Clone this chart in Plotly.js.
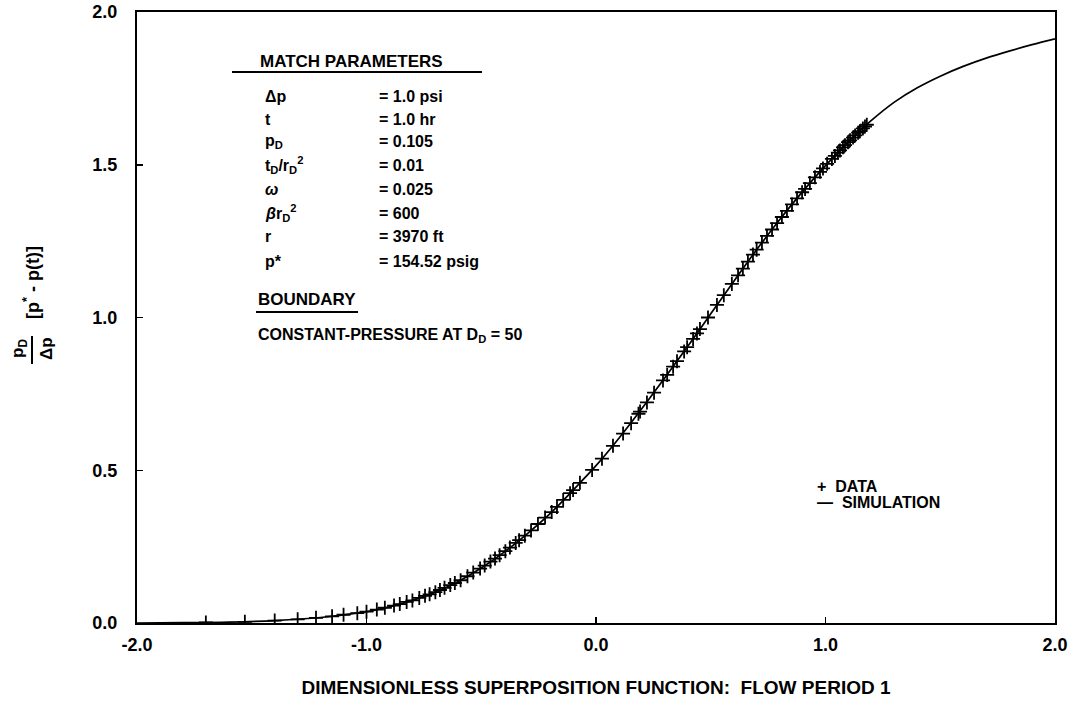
<!DOCTYPE html>
<html>
<head>
<meta charset="utf-8">
<script src="https://cdn.plot.ly/plotly-3.0.1.min.js"></script>
<style>
  html, body { margin: 0; padding: 0; background: #fff; }
  #chart { width: 1077px; height: 711px; }
</style>
</head>
<body>
<div id="chart"></div>
<script>
// ---------- DATA ----------
const simX = [-2.0,-1.8,-1.6,-1.4,-1.2,-1.0,-0.9,-0.8,-0.7,-0.6,-0.5,-0.4,-0.3,-0.2,-0.1,0.0,0.1,0.2,0.3,0.4,0.5,0.6,0.7,0.8,0.9,1.0,1.1,1.2,1.3,1.4,1.5,1.6,1.7,1.8,1.9,2.0];
const simY = [0.000,0.001,0.003,0.008,0.018,0.037,0.053,0.074,0.101,0.136,0.180,0.232,0.292,0.358,0.435,0.515,0.605,0.702,0.803,0.906,1.012,1.118,1.222,1.320,1.412,1.497,1.575,1.645,1.705,1.752,1.790,1.822,1.849,1.872,1.893,1.912];

const dataX = [-1.70,-1.53,-1.40,-1.30,-1.22,-1.15,-1.10,-1.04,-1.00,-0.955,-0.92,-0.88,-0.855,-0.825,-0.80,-0.77,-0.745,-0.725,-0.70,-0.68,-0.66,-0.635,-0.615,-0.59,-0.56,-0.535,-0.505,-0.485,-0.46,-0.44,-0.42,-0.395,-0.375,-0.35,-0.335,-0.31,-0.283,-0.253,-0.222,-0.193,-0.17,-0.143,-0.113,-0.10,-0.07,-0.017,0.026,0.074,0.118,0.153,0.185,0.192,0.222,0.253,0.292,0.31,0.336,0.353,0.384,0.397,0.423,0.44,0.453,0.488,0.527,0.557,0.592,0.619,0.64,0.662,0.684,0.70,0.723,0.745,0.767,0.789,0.81,0.832,0.854,0.876,0.898,0.911,0.932,0.954,0.976,0.989,1.007,1.028,1.041,1.054,1.063,1.076,1.085,1.098,1.107,1.12,1.129,1.142,1.15,1.163,1.172,1.18];
const dataY = [0.002,0.004,0.008,0.012,0.017,0.022,0.027,0.032,0.037,0.044,0.050,0.057,0.062,0.069,0.074,0.082,0.089,0.094,0.101,0.108,0.115,0.124,0.131,0.140,0.153,0.165,0.178,0.188,0.201,0.211,0.222,0.235,0.247,0.262,0.271,0.286,0.303,0.324,0.345,0.363,0.380,0.403,0.425,0.435,0.459,0.501,0.538,0.580,0.620,0.654,0.685,0.692,0.722,0.754,0.794,0.812,0.839,0.857,0.889,0.903,0.930,0.948,0.962,1.000,1.041,1.073,1.110,1.138,1.160,1.183,1.206,1.222,1.245,1.267,1.288,1.309,1.329,1.349,1.370,1.390,1.410,1.421,1.440,1.459,1.477,1.488,1.503,1.519,1.529,1.540,1.547,1.557,1.564,1.574,1.580,1.589,1.596,1.605,1.610,1.619,1.625,1.631];

const xTickVals = [-2, -1, 0, 1, 2];
const xTickLabels = ['-2.0', '-1.0', '0.0', '1.0', '2.0'];
const yTickVals = [0, 0.5, 1, 1.5, 2];
const yTickLabels = ['0.0', '0.5', '1.0', '1.5', '2.0'];

const xTitle = 'DIMENSIONLESS SUPERPOSITION FUNCTION:  FLOW PERIOD 1';
const paramHeader = 'MATCH PARAMETERS';
const paramLabels = ['Δp', 't', 'p<sub>D</sub>', 't<sub>D</sub>/r<sub>D</sub><sup>2</sup>', '<i>ω</i>', '<i>β</i>r<sub>D</sub><sup>2</sup>', 'r', 'p*'];
const paramValues = ['= 1.0 psi', '= 1.0 hr', '= 0.105', '= 0.01', '= 0.025', '= 600', '= 3970 ft', '= 154.52 psig'];
const boundaryHeader = 'BOUNDARY';
const boundaryText = 'CONSTANT-PRESSURE AT D<sub>D</sub> = 50';
const legendLabels = ['+  DATA', '—  SIMULATION'];

// ---------- LAYOUT HELPERS ----------
const L = 137, R = 1055, T = 12, B = 623;
const PX = p => (p - L) / (R - L);
const PY = p => (B - p) / (B - T);
const FONT = 'Liberation Sans, Arial, Helvetica, sans-serif';
const bold = (size) => ({family: FONT, size: size, color: '#000', weight: 'bold'});

const annotations = [];
function addText(text, px, py, size, opts) {
  annotations.push(Object.assign({
    text: text, xref: 'paper', yref: 'paper', x: PX(px), y: PY(py),
    xanchor: 'left', yanchor: 'middle', showarrow: false, font: bold(size)
  }, opts || {}));
}

addText(paramHeader, 258, 61, 17);
const rowY = [96, 119, 142, 165, 189, 213, 237, 261];
paramLabels.forEach((t, i) => addText(t, 263, rowY[i], 16));
paramValues.forEach((t, i) => addText(t, 377, rowY[i], 16));
addText(boundaryHeader, 256, 300, 17);
addText(boundaryText, 256, 335, 16);
addText(legendLabels[0], 815, 486, 16);
addText(legendLabels[1], 815, 502, 16);

// y-axis title (fraction + bracket), rotated
addText('p<sub>D</sub>', 19, 349, 17, {xanchor: 'center', textangle: -90});
addText('Δp', 46, 349, 17, {xanchor: 'center', textangle: -90});
addText('[p<sup>*</sup> - p(t)]', 31, 283, 18, {xanchor: 'center', textangle: -90});

const shapes = [
  {type: 'line', xref: 'paper', yref: 'paper', x0: PX(232), x1: PX(482), y0: PY(72), y1: PY(72), line: {color: '#000', width: 2}},
  {type: 'line', xref: 'paper', yref: 'paper', x0: PX(256), x1: PX(358), y0: PY(312), y1: PY(312), line: {color: '#000', width: 2}},
  {type: 'line', xref: 'paper', yref: 'paper', x0: PX(32), x1: PX(32), y0: PY(336), y1: PY(364), line: {color: '#000', width: 2}}
];

const traces = [
  {x: simX, y: simY, name: 'SIMULATION', type: 'scatter', mode: 'lines',
   line: {color: '#000', width: 1.7, shape: 'spline'}, hoverinfo: 'skip'},
  {x: dataX, y: dataY, name: 'DATA', type: 'scatter', mode: 'markers',
   marker: {symbol: 'cross-thin-open', size: 10, color: '#000', line: {color: '#000', width: 1.8}}}
];

const axisCommon = {
  showline: true, linecolor: '#000', linewidth: 2, mirror: true,
  showgrid: false, zeroline: false, ticks: 'inside', ticklen: 6, tickwidth: 1.5, tickcolor: '#000',
  tickfont: bold(18), tickmode: 'array', automargin: false
};

const layout = {
  width: 1077, height: 711,
  margin: {l: L, r: 1077 - R, t: T, b: 711 - B},
  paper_bgcolor: '#fff', plot_bgcolor: '#fff',
  showlegend: false,
  xaxis: Object.assign({}, axisCommon, {
    range: [-2, 2], tickvals: xTickVals, ticktext: xTickLabels, ticklabelstandoff: 4,
    title: {text: xTitle, font: bold(19), standoff: 27}
  }),
  yaxis: Object.assign({}, axisCommon, {
    range: [0, 2], tickvals: yTickVals, ticktext: yTickLabels, ticklabelstandoff: 14
  }),
  annotations: annotations,
  shapes: shapes
};

Plotly.newPlot('chart', traces, layout, {displayModeBar: false, staticPlot: true});
</script>
</body>
</html>
